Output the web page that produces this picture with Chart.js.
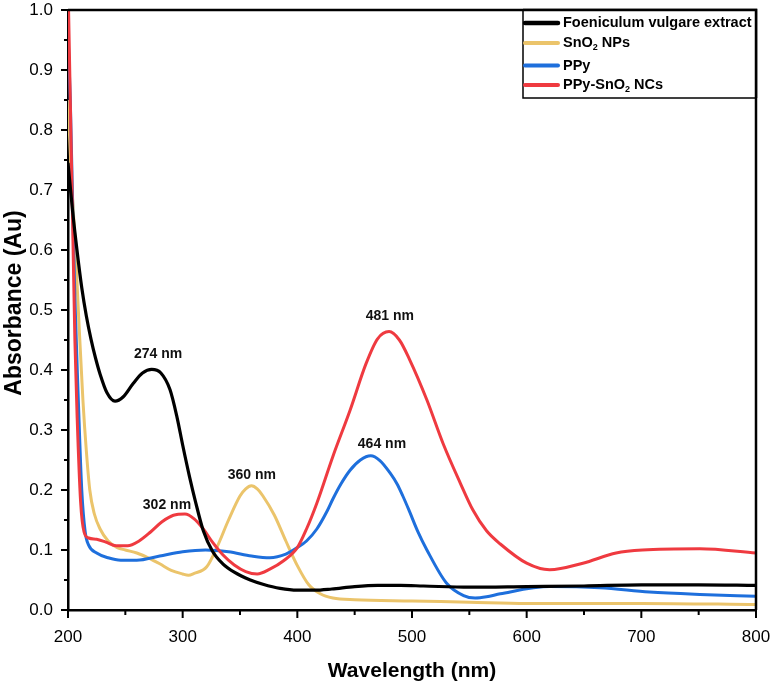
<!DOCTYPE html>
<html>
<head>
<meta charset="utf-8">
<script src="https://cdn.jsdelivr.net/npm/chart.js@4.4.1/dist/chart.umd.min.js"></script>
<style>
  html, body { margin: 0; padding: 0; background: #fff; }
  #wrap { width: 774px; height: 686px; }
</style>
</head>
<body>
<div id="wrap"><canvas id="uv"></canvas></div>
<script>
// wavelength (nm) / absorbance pairs
const fennelNm  = [200, 204, 208, 212, 216, 220, 224, 228, 234, 241, 248, 257, 265, 273, 281, 289, 295, 300, 306, 311, 318, 326, 335, 345, 359, 370, 385, 400, 415, 430, 450, 470, 490, 510, 550, 600, 650, 700, 750, 800];
const fennelAbs = [0.745, 0.665, 0.597, 0.537, 0.49, 0.452, 0.42, 0.393, 0.362, 0.348, 0.355, 0.378, 0.395, 0.401, 0.395, 0.367, 0.322, 0.275, 0.222, 0.182, 0.132, 0.098, 0.077, 0.063, 0.05, 0.043, 0.036, 0.033, 0.033, 0.035, 0.039, 0.041, 0.041, 0.04, 0.038, 0.039, 0.04, 0.042, 0.042, 0.041];

const sno2Nm  = [200, 203, 206, 209, 213, 216, 219, 223, 228, 235, 243, 250, 260, 270, 280, 290, 300, 305, 310, 321, 330, 340, 350, 355, 360, 365, 370, 380, 390, 400, 410, 420, 431, 450, 500, 550, 600, 700, 800];
const sno2Abs = [0.85, 0.72, 0.62, 0.5, 0.35, 0.265, 0.2, 0.16, 0.135, 0.115, 0.104, 0.1, 0.095, 0.087, 0.077, 0.066, 0.06, 0.058, 0.061, 0.072, 0.105, 0.15, 0.19, 0.202, 0.207, 0.202, 0.19, 0.158, 0.115, 0.074, 0.042, 0.027, 0.02, 0.017, 0.015, 0.013, 0.011, 0.011, 0.009];

const ppyNm  = [200, 202, 204, 206, 209, 212, 215, 218, 225, 235, 246, 260, 280, 300, 320, 340, 360, 376, 390, 400, 408, 417, 426, 431, 438, 446, 455, 464, 472, 481, 487, 492, 497, 505, 513, 530, 545, 555, 565, 577, 620, 664, 707, 751, 800];
const ppyAbs = [0.96, 0.85, 0.68, 0.52, 0.35, 0.2, 0.13, 0.108, 0.095, 0.087, 0.083, 0.083, 0.09, 0.097, 0.1, 0.097, 0.09, 0.087, 0.093, 0.104, 0.115, 0.135, 0.165, 0.185, 0.21, 0.233, 0.25, 0.257, 0.249, 0.228, 0.21, 0.19, 0.168, 0.131, 0.1, 0.045, 0.024, 0.02, 0.022, 0.027, 0.039, 0.037, 0.03, 0.026, 0.023];

const compNm  = [200, 202, 204, 206, 208, 211, 214, 218, 225, 233, 242, 252, 262, 272, 282, 292, 302, 310, 318, 326, 335, 345, 355, 365, 376, 388, 400, 408, 417, 431, 446, 460, 470, 480, 489, 498, 513, 527, 542, 553, 565, 577, 600, 620, 649, 678, 701, 751, 800];
const compAbs = [1.05, 0.85, 0.65, 0.45, 0.32, 0.18, 0.13, 0.12, 0.118, 0.113, 0.107, 0.107, 0.115, 0.13, 0.147, 0.158, 0.16, 0.152, 0.135, 0.113, 0.092, 0.075, 0.064, 0.06, 0.068, 0.082, 0.104, 0.135, 0.178, 0.256, 0.333, 0.411, 0.452, 0.464, 0.45, 0.417, 0.35, 0.278, 0.212, 0.167, 0.132, 0.11, 0.078, 0.067, 0.078, 0.095, 0.1, 0.102, 0.095];

const seriesNames = ['Foeniculum vulgare extract', 'SnO2 NPs', 'PPy', 'PPy-SnO2 NCs'];
const seriesColors = ['#000000', '#EBC46B', '#1E6FDC', '#EF3A40'];

// peak annotations: label text and where it sits in data units
const peakText = ['274 nm', '302 nm', '360 nm', '464 nm', '481 nm'];
const peakAtNm = [278.5, 286.3, 360.4, 473.8, 480.7];
const peakAtAbs = [0.427, 0.175, 0.225, 0.277, 0.49];

const xTicks = [200, 300, 400, 500, 600, 700, 800];
const yTicks = [0.0, 0.1, 0.2, 0.3, 0.4, 0.5, 0.6, 0.7, 0.8, 0.9, 1.0];

const FONT = 'Arial, "Liberation Sans", sans-serif';

function pairs(xs, ys) {
  return xs.map((x, i) => ({ x, y: ys[i] }));
}

function lineSet(i, xs, ys, order) {
  return {
    label: seriesNames[i],
    data: pairs(xs, ys),
    borderColor: seriesColors[i],
    backgroundColor: seriesColors[i],
    borderWidth: i === 0 ? 3.2 : 3,
    pointRadius: 0,
    cubicInterpolationMode: 'monotone',
    order,
  };
}

// no extra room for overflowing tick labels, the plot box is fixed
function noScalePadding(s) {
  s.paddingLeft = 0;
  s.paddingRight = 0;
  s.paddingTop = 0;
  s.paddingBottom = 0;
}

// draws "SnO2" style text with a subscript digit
function drawRich(ctx, text, x, y, size) {
  const parts = text.split(/(O2)/);
  ctx.textBaseline = 'middle';
  ctx.textAlign = 'left';
  parts.forEach(p => {
    if (p === 'O2') {
      ctx.font = 'bold ' + size + 'px ' + FONT;
      ctx.fillText('O', x, y);
      x += ctx.measureText('O').width;
      ctx.font = 'bold ' + Math.round(size * 0.65) + 'px ' + FONT;
      ctx.fillText('2', x, y + size * 0.3);
      x += ctx.measureText('2').width;
    } else if (p) {
      ctx.font = 'bold ' + size + 'px ' + FONT;
      ctx.fillText(p, x, y);
      x += ctx.measureText(p).width;
    }
  });
}

const framePlugin = {
  id: 'frame',
  afterDraw(chart) {
    const { ctx, chartArea: a, scales } = chart;
    const xs = scales.x, ys = scales.y;
    ctx.save();
    ctx.strokeStyle = '#000';

    // top + right border
    ctx.lineWidth = 2.5;
    ctx.beginPath();
    ctx.moveTo(a.left, a.top);
    ctx.lineTo(a.right, a.top);
    ctx.lineTo(a.right, a.bottom);
    ctx.stroke();

    // outward ticks, major + minor
    ctx.lineWidth = 2;
    xs.ticks.forEach(t => {
      const px = xs.getPixelForValue(t.value);
      const len = t.value % 100 === 0 ? 8 : 5;
      ctx.beginPath();
      ctx.moveTo(px, a.bottom);
      ctx.lineTo(px, a.bottom + len);
      ctx.stroke();
    });
    ys.ticks.forEach(t => {
      const py = ys.getPixelForValue(t.value);
      const len = Math.round(t.value * 100) % 10 === 0 ? 7 : 4;
      ctx.beginPath();
      ctx.moveTo(a.left, py);
      ctx.lineTo(a.left - len, py);
      ctx.stroke();
    });

    // peak labels
    ctx.fillStyle = '#111';
    ctx.font = 'bold 14px ' + FONT;
    ctx.textAlign = 'center';
    ctx.textBaseline = 'middle';
    peakText.forEach((txt, i) => {
      ctx.fillText(txt, xs.getPixelForValue(peakAtNm[i]), ys.getPixelForValue(peakAtAbs[i]));
    });

    // axis titles
    ctx.fillStyle = '#000';
    ctx.font = 'bold 21px ' + FONT;
    ctx.fillText('Wavelength (nm)', (a.left + a.right) / 2, 671);
    ctx.save();
    ctx.translate(15, 303);
    ctx.rotate(-Math.PI / 2);
    ctx.font = 'bold 23px ' + FONT;
    ctx.fillText('Absorbance (Au)', 0, 0);
    ctx.restore();

    // legend box
    const lx = 523, ly = a.top, lw = a.right - lx, lh = 88;
    ctx.fillStyle = '#fff';
    ctx.fillRect(lx, ly, lw, lh);
    ctx.lineWidth = 1.5;
    ctx.strokeRect(lx, ly, lw, lh);
    ctx.lineWidth = 2.5;
    ctx.beginPath();
    ctx.moveTo(lx, ly);
    ctx.lineTo(a.right, ly);
    ctx.lineTo(a.right, ly + lh);
    ctx.stroke();
    const rows = [23, 43, 65.5, 85];
    seriesNames.forEach((name, i) => {
      ctx.strokeStyle = seriesColors[i];
      ctx.lineWidth = i === 0 ? 4.5 : 4;
      ctx.lineCap = 'round';
      ctx.beginPath();
      ctx.moveTo(lx + 2, rows[i]);
      ctx.lineTo(lx + 35, rows[i]);
      ctx.stroke();
      ctx.fillStyle = '#000';
      drawRich(ctx, name, lx + 40, rows[i], 14.5);
    });
    ctx.restore();
  }
};

new Chart(document.getElementById('uv'), {
  type: 'line',
  data: {
    datasets: [
      lineSet(0, fennelNm, fennelAbs, 0),
      lineSet(1, sno2Nm, sno2Abs, 3),
      lineSet(2, ppyNm, ppyAbs, 2),
      lineSet(3, compNm, compAbs, 1),
    ],
  },
  options: {
    responsive: true,
    maintainAspectRatio: false,
    animation: false,
    layout: { padding: { top: 10, right: 18, left: 0, bottom: 0 } },
    plugins: { legend: { display: false }, tooltip: { enabled: false } },
    scales: {
      x: {
        type: 'linear',
        min: 200, max: 800,
        afterFit: s => { s.height = 76; noScalePadding(s); },
        afterBuildTicks: s => {
          s.ticks = [];
          xTicks.forEach((v, i) => {
            s.ticks.push({ value: v });
            if (i < xTicks.length - 1) s.ticks.push({ value: v + 50 });
          });
        },
        ticks: {
          color: '#000',
          font: { family: FONT, size: 17 },
          padding: 9,
          maxRotation: 0,
          autoSkip: false,
          callback: v => (v % 100 === 0 ? String(v) : ''),
        },
        grid: { display: true, drawOnChartArea: false, color: 'transparent', tickLength: 8 },
        border: { display: true, color: '#000', width: 2.5 },
      },
      y: {
        min: 0, max: 1,
        afterFit: s => { s.width = 68; noScalePadding(s); },
        afterBuildTicks: s => {
          s.ticks = [];
          yTicks.forEach((v, i) => {
            s.ticks.push({ value: v });
            if (i < yTicks.length - 1) s.ticks.push({ value: v + 0.05 });
          });
        },
        ticks: {
          color: '#000',
          font: { family: FONT, size: 17 },
          padding: 7,
          autoSkip: false,
          callback: v => (Math.round(v * 100) % 10 === 0 ? v.toFixed(1) : ''),
        },
        grid: { display: true, drawOnChartArea: false, color: 'transparent', tickLength: 8 },
        border: { display: true, color: '#000', width: 2.5 },
      },
    },
  },
  plugins: [framePlugin],
});
</script>
</body>
</html>
